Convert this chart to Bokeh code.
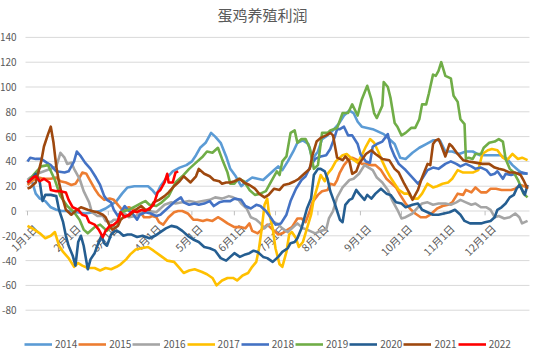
import math
from bokeh.plotting import figure
from bokeh.models import Range1d, Legend, LegendItem, Label, ColumnDataSource
from bokeh.embed import file_html
from bokeh.resources import INLINE
from bokeh.core.properties import value

title_text = "蛋鸡养殖利润"
years = ["2014", "2015", "2016", "2017", "2018", "2019", "2020", "2021", "2022"]
colors = ["#5B9BD5", "#ED7D31", "#A5A5A5", "#FFC000", "#4472C4", "#70AD47", "#255E91", "#9E480E", "#FF0000"]

month_days = [0, 31, 59, 90, 120, 151, 181, 212, 243, 273, 304, 334]
month_labels = ["1月1日", "2月1日", "3月1日", "4月1日", "5月1日", "6月1日",
                "7月1日", "8月1日", "9月1日", "10月1日", "11月1日", "12月1日"]
y_ticks = [-80, -60, -40, -20, 0, 20, 40, 60, 80, 100, 120, 140]

# (day of year, profit) pairs
s2014 = [(0,22),(3,25),(6,14),(9,10),(13,8),(17,3),(21,1),(25,0),(30,0),(36,-1),(42,-2),(48,-1),(53,0),(57,2),(61,5),(65,8),(69,14),(73,19),(78,20),(83,20),(88,20),(91,17),(94,13),(97,20),(101,26),(106,32),(111,35),(116,37),(120,40),(123,45),(126,51),(130,55),(134,63),(137,60),(141,55),(145,44),(148,34),(152,28),(156,20),(160,24),(164,27),(168,26),(172,25),(176,29),(180,33),(183,36),(186,33),(190,40),(194,48),(197,55),(201,57),(205,54),(208,42),(212,48),(215,58),(219,61),(223,65),(227,70),(231,77),(235,81),(238,79),(241,72),(244,68),(248,67),(252,66),(256,64),(260,62),(264,58),(268,54),(272,43),(276,42),(281,47),(286,51),(291,54),(296,57),(301,57),(305,48),(310,48),(315,46),(320,48),(325,48),(330,45),(335,45),(340,45),(345,45),(350,42),(354,37),(358,33),(362,30),(365,30)]
s2015 = [(0,21),(4,25),(8,27),(12,26),(17,26),(21,27),(24,24),(28,23),(32,21),(35,22),(38,27),(40,31),(43,30),(45,26),(49,18),(52,13),(56,9),(60,10),(63,9),(66,5),(69,1),(74,3),(78,1),(82,0),(85,-5),(89,-5),(91,-4),(94,-5),(96,-9),(99,-11),(103,-5),(107,-1),(110,0),(113,0),(117,-2),(121,-7),(124,-7),(128,-8),(131,-7),(135,-8),(139,-5),(142,-7),(146,-10),(151,-13),(156,-13),(159,-14),(162,-10),(164,-16),(168,-18),(172,-14),(175,-11),(179,-15),(183,-19),(186,-18),(190,-15),(193,-13),(197,-6),(200,-6),(203,-9),(206,0),(208,7),(212,13),(215,16),(219,17),(221,22),(224,21),(226,25),(228,31),(231,37),(234,41),(237,43),(241,41),(244,38),(247,38),(251,37),(254,37),(258,33),(262,26),(265,23),(269,19),(272,13),(276,6),(280,1),(283,-2),(287,-5),(291,-5),(294,-3),(299,2),(303,4),(307,5),(310,7),(314,14),(318,13),(320,17),(324,15),(327,19),(331,15),(335,15),(338,18),(342,18),(346,17),(349,17),(353,17),(356,18),(360,21),(365,19)]
s2016 = [(0,25),(2,27),(7,30),(12,32),(17,34),(21,36),(23,43),(24,47),(27,43),(29,38),(32,39),(34,34),(38,26),(41,16),(45,7),(47,-1),(51,-4),(55,-4),(57,-8),(61,-9),(63,-7),(66,-7),(68,-1),(71,-2),(74,-5),(79,-4),(84,-1),(89,0),(94,-1),(96,1),(100,5),(105,7),(108,6),(113,7),(118,8),(123,7),(128,8),(133,9),(137,11),(142,10),(147,12),(150,11),(154,9),(156,6),(160,2),(163,-5),(167,-7),(170,-10),(173,-14),(176,-11),(180,-9),(182,-10),(186,-14),(190,-17),(193,-14),(197,-10),(201,-14),(204,-15),(208,-17),(210,-18),(214,-16),(218,-15),(220,-6),(223,0),(226,11),(230,19),(235,25),(238,26),(242,30),(246,37),(249,35),(252,33),(255,27),(259,23),(263,17),(266,9),(270,1),(273,-6),(276,-5),(281,-2),(285,3),(288,6),(292,7),(296,5),(300,6),(305,6),(309,5),(313,7),(316,9),(320,7),(324,5),(327,6),(331,3),(335,3),(338,1),(341,-5),(344,-4),(348,-6),(352,-5),(356,-2),(359,-5),(361,-10),(363,-9),(365,-8)]
s2017 = [(0,-12),(5,-15),(9,-18),(13,-22),(17,-20),(20,-17),(23,-28),(26,-33),(30,-38),(34,-45),(37,-42),(40,-44),(44,-46),(49,-46),(53,-48),(57,-46),(61,-47),(65,-45),(68,-43),(72,-39),(75,-35),(79,-31),(83,-30),(88,-29),(92,-32),(97,-36),(102,-40),(107,-41),(111,-46),(114,-50),(118,-48),(122,-47),(127,-49),(131,-51),(135,-54),(138,-60),(142,-56),(146,-54),(150,-54),(153,-56),(157,-52),(161,-50),(164,-45),(167,-41),(169,-30),(171,-14),(173,5),(175,10),(176,0),(179,-14),(181,-30),(184,-43),(186,-45),(189,-33),(191,-19),(193,-17),(196,-22),(198,-29),(201,-25),(204,-14),(207,-3),(209,10),(212,21),(214,29),(217,24),(219,30),(222,34),(225,40),(230,45),(233,46),(237,42),(241,39),(244,45),(247,52),(250,58),(253,55),(256,48),(259,40),(262,33),(265,27),(268,22),(271,17),(275,14),(278,14),(281,10),(285,10),(288,14),(292,22),(296,19),(299,20),(303,22),(307,23),(310,26),(314,33),(318,31),(321,31),(325,31),(329,33),(332,46),(336,49),(339,50),(343,49),(347,43),(350,41),(354,46),(358,42),(361,43),(365,41)]
s2018 = [(0,40),(2,43),(6,42),(10,42),(14,39),(17,37),(21,32),(27,31),(30,32),(34,40),(36,48),(39,44),(42,39),(46,34),(50,27),(53,21),(56,12),(58,9),(61,7),(63,1),(66,-4),(68,-1),(71,4),(74,0),(76,-1),(80,-7),(82,-3),(86,-1),(90,-2),(94,-4),(97,-3),(101,1),(105,5),(108,8),(112,11),(114,7),(118,5),(122,6),(125,5),(129,6),(133,8),(136,4),(140,7),(144,8),(148,8),(151,10),(156,9),(159,4),(163,2),(167,5),(170,4),(174,0),(178,-6),(181,-11),(185,-10),(189,-3),(192,8),(196,18),(200,25),(203,28),(207,37),(210,42),(214,44),(218,45),(221,50),(224,59),(226,66),(228,66),(231,68),(234,61),(237,61),(241,54),(243,46),(247,40),(250,39),(252,52),(255,54),(259,56),(263,62),(265,52),(268,44),(271,38),(276,33),(281,27),(285,22),(288,26),(292,33),(296,35),(300,34),(305,38),(309,40),(313,38),(316,36),(320,38),(324,36),(327,34),(331,35),(335,33),(338,29),(341,30),(343,32),(347,26),(349,30),(353,29),(356,30),(361,31),(365,30)]
s2019 = [(0,23),(5,30),(10,36),(15,37),(20,25),(24,12),(29,4),(34,-1),(38,-7),(41,-15),(44,-18),(49,-13),(53,-11),(58,-16),(62,-12),(66,-9),(68,-1),(71,0),(74,1),(79,4),(84,7),(86,8),(89,5),(94,4),(98,7),(103,12),(108,23),(113,28),(118,34),(123,39),(128,44),(131,48),(135,47),(139,51),(142,42),(146,31),(148,22),(151,22),(154,26),(158,24),(162,17),(166,13),(170,14),(174,16),(178,24),(182,32),(184,29),(186,40),(189,44),(192,63),(195,65),(197,55),(200,58),(203,58),(206,51),(209,34),(212,37),(215,63),(219,63),(221,65),(226,67),(230,79),(234,79),(237,86),(241,77),(244,90),(248,101),(251,90),(253,79),(255,75),(259,85),(260,104),(263,100),(265,91),(268,71),(270,68),(273,61),(276,63),(280,67),(283,67),(286,74),(288,86),(291,86),(293,95),(296,110),(298,109),(300,113),(302,120),(305,109),(309,107),(311,93),(314,88),(316,74),(319,70),(320,42),(322,43),(325,42),(327,46),(331,46),(333,51),(337,55),(341,56),(344,58),(347,56),(349,42),(352,34),(355,31),(358,25),(360,20),(362,14),(365,11)]
s2020 = [(0,23),(4,27),(6,30),(9,23),(11,8),(13,13),(17,13),(21,12),(23,1),(26,-9),(28,-20),(30,-28),(33,-36),(35,-44),(37,-25),(39,-20),(41,-28),(44,-47),(46,-39),(49,-34),(51,-28),(54,-20),(56,-26),(58,-28),(61,-19),(64,-16),(67,-17),(70,-20),(73,-19),(76,-19),(80,-21),(84,-20),(89,-22),(93,-20),(97,-17),(101,-14),(105,-12),(109,-13),(113,-16),(117,-20),(121,-23),(125,-25),(129,-29),(133,-30),(137,-32),(141,-38),(145,-40),(148,-37),(151,-34),(155,-37),(159,-35),(162,-34),(165,-32),(168,-33),(172,-37),(175,-38),(179,-41),(183,-37),(186,-33),(190,-30),(192,-26),(195,-25),(197,-22),(200,-14),(202,-6),(204,2),(207,10),(209,29),(212,34),(214,34),(217,32),(219,26),(221,16),(224,7),(226,0),(228,-7),(230,-9),(232,5),(235,9),(237,10),(240,17),(242,14),(246,9),(248,13),(251,10),(254,14),(258,18),(262,14),(265,13),(269,7),(273,6),(276,3),(281,5),(285,6),(288,1),(292,-1),(296,-3),(300,-3),(304,-2),(308,-1),(312,1),(316,-3),(319,-8),(323,-10),(327,-10),(331,-10),(334,-9),(338,-8),(341,-5),(343,1),(346,3),(349,6),(352,11),(355,13),(357,18),(359,21),(361,17),(363,13),(365,21)]
s2021 = [(0,18),(2,19),(6,23),(10,40),(12,52),(15,62),(17,68),(19,55),(21,36),(23,23),(26,9),(28,1),(32,-3),(35,0),(39,3),(44,1),(47,0),(51,-1),(55,-3),(57,-5),(60,-12),(62,-15),(66,-12),(68,-7),(71,-4),(74,-4),(79,1),(83,4),(86,1),(89,1),(92,7),(96,9),(100,12),(103,15),(107,20),(111,24),(114,28),(117,25),(119,23),(123,28),(125,34),(129,30),(133,28),(136,25),(140,24),(142,22),(145,23),(148,23),(151,24),(155,26),(158,23),(162,21),(166,18),(169,14),(173,11),(176,13),(180,18),(184,17),(187,21),(191,22),(195,24),(198,26),(202,30),(206,34),(208,45),(211,56),(214,59),(218,61),(221,63),(223,61),(226,43),(230,41),(232,44),(235,40),(237,30),(240,32),(242,38),(247,46),(251,49),(254,46),(259,42),(264,41),(268,34),(271,31),(275,22),(279,14),(281,9),(285,17),(288,27),(292,38),(294,37),(296,54),(298,57),(300,58),(302,53),(305,44),(308,54),(310,52),(314,46),(318,41),(322,40),(327,39),(332,38),(337,38),(341,35),(344,34),(348,33),(352,31),(356,31),(360,29),(362,25),(365,18)]
s2022 = [(0,23),(4,27),(6,28),(9,24),(12,26),(16,23),(17,17),(21,16),(24,16),(28,15),(30,9),(33,3),(37,1),(40,-3),(43,-4),(45,-9),(49,-11),(52,-15),(55,-21),(57,-16),(60,-12),(63,-11),(66,-8),(68,-1),(71,-5),(74,-3),(77,0),(80,-1),(83,1),(86,0),(90,3),(92,5),(95,15),(97,17),(100,23),(102,30),(103,23),(106,23),(108,31),(110,32)]

series = [s2014, s2015, s2016, s2017, s2018, s2019, s2020, s2021, s2022]

# the frame covers the whole figure; ranges chosen so the plotting area matches
p = figure(width=532, height=351, output_backend="svg", toolbar_location=None,
           x_range=Range1d(-19.71, 368.61), y_range=Range1d(-113.3, 169.76),
           x_axis_location=None, y_axis_location=None,
           min_border_left=0, min_border_right=0, min_border_top=0, min_border_bottom=0)
p.outline_line_color = None
p.background_fill_color = "white"
p.border_fill_color = "white"
p.xgrid.visible = False
p.ygrid.visible = False

n = len(y_ticks)
# horizontal grid lines
p.segment(x0=[-1.46]*n, y0=y_ticks, x1=[366.4]*n, y1=y_ticks, line_color="#D9D9D9", line_width=1)
# y tick labels
p.text(x=[-8.0]*n, y=y_ticks, text=[str(t) for t in y_ticks], text_align="right",
       text_baseline="middle", text_font=value("Noto Sans CJK SC"), text_font_size="10px",
       text_color="#595959")

# month ticks on the zero line
m = len(month_days)
p.segment(x0=month_days, y0=[0]*m, x1=month_days, y1=[-3.5]*m, line_color="#BFBFBF", line_width=1)
src_m = ColumnDataSource(dict(x=month_days, y=[0]*m, t=month_labels))
p.text(x="x", y="y", text="t", source=src_m, angle=math.pi/4,
       text_align="right", text_baseline="top", x_offset=3, y_offset=10,
       text_font=value("Noto Sans CJK SC"), text_font_size="10.5px", text_color="#595959")

items = []
for yr, col, s in zip(years, colors, series):
    xs = [a for a, b in s]
    ys = [b for a, b in s]
    r = p.line(xs, ys, line_color=col, line_width=2.6, line_join="round")
    items.append(LegendItem(label=yr, renderers=[r]))

legend = Legend(items=items, orientation="horizontal", location=(24, 0),
                glyph_width=28, glyph_height=12, label_standoff=3, spacing=1,
                padding=0, margin=0, border_line_color=None, background_fill_alpha=0,
                label_text_font="Noto Sans CJK SC", label_text_font_size="10px",
                label_text_color="#595959", label_height=12)
p.add_layout(legend, "center")

title = Label(x=262, y=337, x_units="screen", y_units="screen", text=title_text,
              text_align="center", text_baseline="middle",
              text_font="Noto Sans CJK SC", text_font_size="15px", text_color="#595959")
p.add_layout(title)

open("out.html", "w").write(file_html(p, INLINE))
